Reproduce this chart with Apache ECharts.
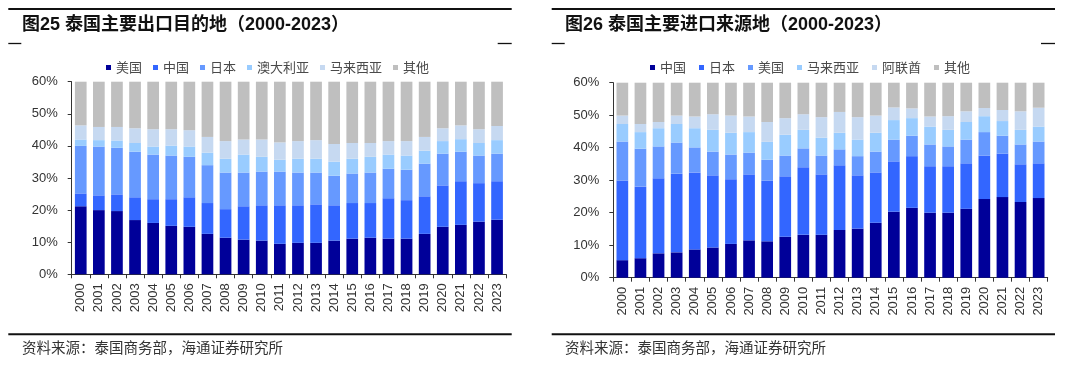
<!DOCTYPE html>
<html>
<head>
<meta charset="utf-8">
<script src="https://cdn.jsdelivr.net/npm/echarts@6/dist/echarts.min.js"></script>
<style>
html,body{margin:0;padding:0;background:#fff;}
#wrap{position:relative;width:1080px;height:372px;}
#c1{position:absolute;left:0;top:0;width:540px;height:372px;}
#c2{position:absolute;left:540px;top:0;width:540px;height:372px;}
</style>
</head>
<body>
<div id="wrap"><div id="c1"></div><div id="c2"></div></div>
<script>
// ---------- data ----------
const years = ['2000','2001','2002','2003','2004','2005','2006','2007','2008','2009','2010','2011',
  '2012','2013','2014','2015','2016','2017','2018','2019','2020','2021','2022','2023'];
const yTicks = [0, 10, 20, 30, 40, 50, 60];

// Figure 25: export destinations (share, %)
const expTitle = '图25 泰国主要出口目的地（2000-2023）';
const expNames = ['美国', '中国', '日本', '澳大利亚', '马来西亚', '其他'];
const expUS  = [21.2,20.0,19.7,16.9,16.0,15.1,14.8,12.6,11.4,10.8,10.5,9.5,9.8,9.8,10.5,11.1,11.4,11.1,11.1,12.6,14.8,15.4,16.4,17.0];
const expCN  = [4.0,4.6,5.2,7.1,7.4,8.3,9.2,9.6,8.9,10.4,11.0,12.0,11.7,12.0,11.0,11.1,10.8,12.6,12.0,11.7,12.9,13.6,12.0,12.0];
const expJP  = [14.8,15.2,14.5,14.2,13.9,13.6,12.6,11.8,11.4,10.5,10.5,10.5,10.2,9.9,9.2,9.2,9.5,9.2,9.5,10.2,9.9,9.2,8.6,8.6];
const expAU  = [2.0,2.0,2.3,2.7,2.5,3.1,3.2,3.9,4.3,5.6,4.6,3.7,4.3,4.3,4.4,4.6,4.9,4.4,4.4,4.0,3.9,3.9,3.9,4.2];
const expMY  = [4.4,4.1,4.2,4.6,5.4,5.1,5.1,4.9,5.5,4.7,5.4,5.4,5.5,5.8,5.5,4.9,4.3,4.2,4.5,4.3,4.0,4.3,4.3,4.4];
const expOT  = [53.6,54.1,54.1,54.5,54.8,54.8,55.1,57.2,58.5,58.0,58.0,58.9,58.5,58.2,59.4,59.1,59.1,58.5,58.5,57.2,54.5,53.6,54.8,53.8];

// Figure 26: import sources (share, %)
const impTitle = '图26 泰国主要进口来源地（2000-2023）';
const impNames = ['中国', '日本', '美国', '马来西亚', '阿联酋', '其他'];
const impCN  = [5.4,6.0,7.5,7.8,8.7,9.3,10.4,11.5,11.2,12.6,13.2,13.2,14.7,15.1,16.9,20.3,21.5,20.0,20.0,21.2,24.2,24.8,23.3,24.5];
const impJP  = [24.5,22.1,23.1,24.2,23.7,22.2,19.9,20.3,18.7,18.6,20.8,18.6,19.9,16.4,15.5,15.5,15.9,14.3,14.3,14.0,13.4,13.4,11.6,10.7];
const impUS  = [12.0,11.6,9.8,9.6,7.7,7.3,7.6,6.7,6.4,6.4,5.8,5.8,4.9,5.9,6.4,6.7,6.3,6.7,6.1,7.3,7.2,5.5,6.1,6.7];
const impMY  = [5.4,5.1,5.6,5.7,5.9,6.7,6.7,6.3,5.5,6.4,5.7,5.5,5.1,5.1,5.8,6.0,5.4,5.5,5.1,5.4,4.9,4.5,4.5,4.6];
const impAE  = [2.6,2.5,1.9,2.6,3.6,4.8,5.3,4.8,6.1,5.1,4.8,6.3,6.4,6.9,5.3,3.9,3.0,3.1,4.2,3.3,2.5,3.4,5.7,5.8];
const impOT  = [50.1,52.7,52.1,50.1,50.4,49.7,50.1,50.4,52.1,50.9,49.7,50.6,49.0,50.6,50.1,47.6,47.9,50.4,50.3,48.8,47.8,48.4,48.8,47.7];

const sourceText = '资料来源：泰国商务部，海通证券研究所';

// ---------- styling ----------
const palette = ['#000099', '#3366FF', '#6699FF', '#99CCFF', '#C6D9F1', '#BFBFBF'];
const latin = '"Liberation Sans", Arial, "Noto Sans CJK SC", sans-serif';
const cjk = '"Noto Sans CJK SC", "Liberation Sans", sans-serif';

function build(cfg) {
  const series = cfg.names.map((n, i) => ({
    name: n, type: 'bar', stack: 'total', data: cfg.values[i],
    barWidth: 11.7, itemStyle: { color: palette[i] }, clip: true
  }));
  return {
    animation: false,
    color: palette,
    grid: { left: cfg.gl, top: cfg.gt, width: 434.4, height: cfg.gh, containLabel: false },
    legend: {
      left: cfg.ll, top: 56, itemWidth: 5, itemHeight: 5, itemGap: cfg.lgap, icon: 'rect',
      textStyle: { fontSize: 13, color: '#4a4a4a', fontFamily: cjk },
      data: cfg.names
    },
    xAxis: {
      type: 'category', data: years,
      axisLine: { lineStyle: { color: '#333', width: 1 } },
      axisTick: { show: true, length: 4, lineStyle: { color: '#333' } },
      axisLabel: { rotate: 90, interval: 0, fontSize: 13, color: '#333', fontFamily: latin, margin: 9 }
    },
    yAxis: {
      type: 'value', min: yTicks[0], max: yTicks[yTicks.length - 1], interval: 10,
      axisLine: { show: true, lineStyle: { color: '#333', width: 1 } },
      axisTick: { show: true, length: 4, lineStyle: { color: '#333' } },
      splitLine: { show: false },
      axisLabel: { formatter: '{value}%', fontSize: 13, color: '#333', fontFamily: latin, margin: 14 }
    },
    series: series,
    graphic: [
      { type: 'line', shape: { x1: cfg.lx1, y1: 9, x2: cfg.lx2, y2: 9 }, style: { stroke: '#111', lineWidth: 2 } },
      { type: 'line', shape: { x1: cfg.lx1, y1: 43.5, x2: cfg.lx1 + 13, y2: 43.5 }, style: { stroke: '#111', lineWidth: 1.3 } },
      { type: 'line', shape: { x1: cfg.lx2 - 14, y1: 43.5, x2: cfg.lx2, y2: 43.5 }, style: { stroke: '#111', lineWidth: 1.3 } },
      { type: 'text', left: cfg.tx, top: 16, style: { text: cfg.title, font: 'bold 18px ' + latin, fill: '#111' } },
      { type: 'line', shape: { x1: cfg.lx1, y1: 334.3, x2: cfg.lx2, y2: 334.3 }, style: { stroke: '#111', lineWidth: 2 } },
      { type: 'text', left: cfg.tx, top: 340, style: { text: sourceText, font: '14.5px ' + cjk, fill: '#333' } }
    ]
  };
}

const c1 = echarts.init(document.getElementById('c1'), null, { renderer: 'canvas' });
c1.setOption(build({
  names: expNames, values: [expUS, expCN, expJP, expAU, expMY, expOT], title: expTitle,
  gl: 71.7, gt: 81.7, gh: 192.6, ll: 101, lgap: 11, lx1: 8.3, lx2: 511.7, tx: 22
}));
const c2 = echarts.init(document.getElementById('c2'), null, { renderer: 'canvas' });
c2.setOption(build({
  names: impNames, values: [impCN, impJP, impUS, impMY, impAE, impOT], title: impTitle,
  gl: 73.3, gt: 82.7, gh: 195, ll: 105, lgap: 13, lx1: 11.7, lx2: 515, tx: 25
}));
</script>
</body>
</html>
